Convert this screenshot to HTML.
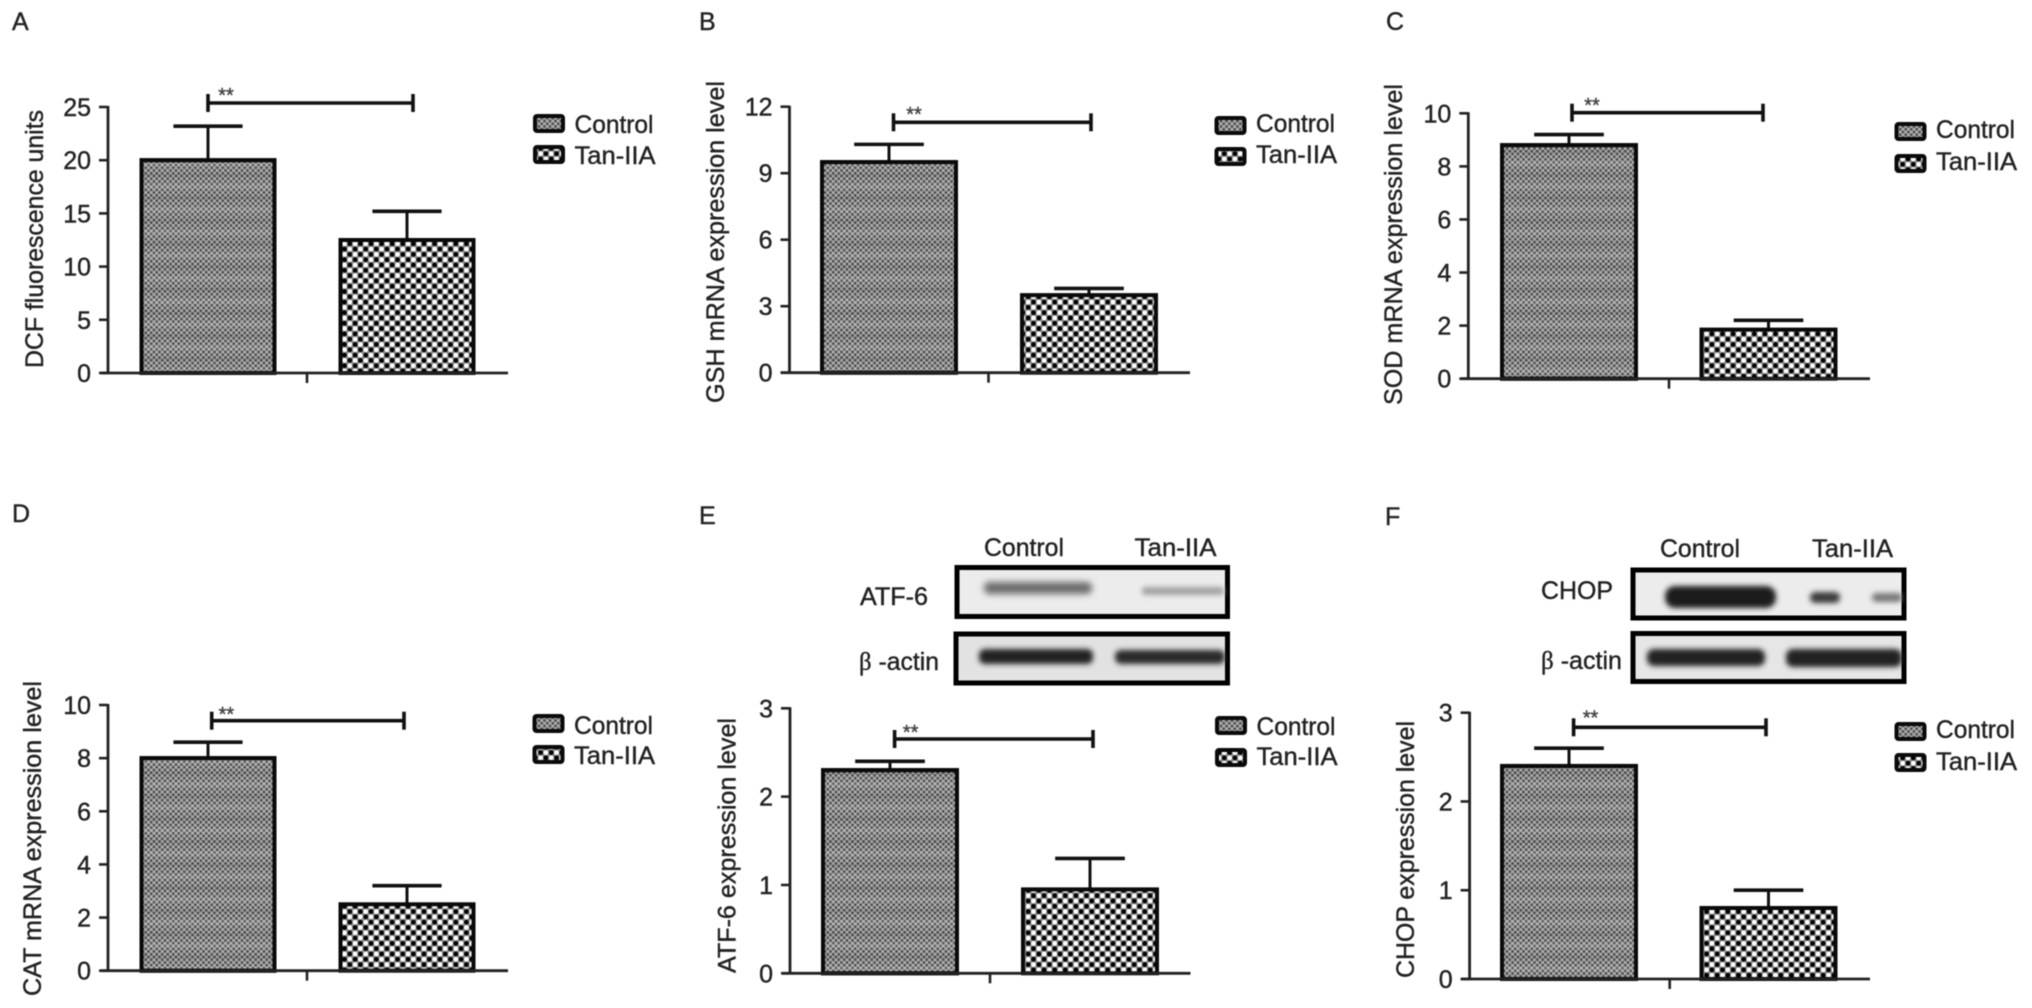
<!DOCTYPE html>
<html lang="en">
<head>
<meta charset="utf-8">
<title>Tan-IIA expression panels</title>
<style>
html,body{margin:0;padding:0;background:#fff;}
body{width:2032px;height:1008px;overflow:hidden;}
svg{display:block;filter:blur(0.55px);}
text{font-family:"Liberation Sans",sans-serif;fill:#222;stroke:#222;stroke-width:0.4px;}
</style>
</head>
<body>
<svg id="figure" xmlns="http://www.w3.org/2000/svg" width="2032" height="1008" viewBox="0 0 2032 1008">
<defs>
<pattern id="control-fill" patternUnits="userSpaceOnUse" width="5.5" height="5.5">
<rect width="5.5" height="5.5" fill="#b2b2b2"/>
<circle cx="0" cy="0" r="1.45" fill="#505050"/><circle cx="5.5" cy="0" r="1.45" fill="#505050"/>
<circle cx="0" cy="5.5" r="1.45" fill="#505050"/><circle cx="5.5" cy="5.5" r="1.45" fill="#505050"/>
<circle cx="2.75" cy="2.75" r="1.45" fill="#505050"/>
</pattern>
<pattern id="band-fill" patternUnits="userSpaceOnUse" width="8" height="23">
<rect y="0" width="8" height="5" fill="#fff" opacity="0.1"/>
<rect y="12" width="8" height="4" fill="#000" opacity="0.08"/>
</pattern>
<pattern id="tan-fill" patternUnits="userSpaceOnUse" width="10.6" height="10.6">
<rect width="10.6" height="10.6" fill="#8a8a8a"/>
<circle cx="0" cy="0" r="2.4" fill="#000"/><circle cx="10.6" cy="0" r="2.4" fill="#000"/>
<circle cx="0" cy="10.6" r="2.4" fill="#000"/><circle cx="10.6" cy="10.6" r="2.4" fill="#000"/>
<circle cx="5.3" cy="5.3" r="2.4" fill="#000"/>
<circle cx="5.3" cy="0" r="2.4" fill="#fff"/><circle cx="5.3" cy="10.6" r="2.4" fill="#fff"/>
<circle cx="0" cy="5.3" r="2.4" fill="#fff"/><circle cx="10.6" cy="5.3" r="2.4" fill="#fff"/>
</pattern>
<filter id="soft3" x="-20%" y="-150%" width="140%" height="400%"><feGaussianBlur stdDeviation="3.4"/></filter>
<filter id="soft2" x="-20%" y="-100%" width="140%" height="300%"><feGaussianBlur stdDeviation="2.6"/></filter>
</defs>
<rect width="2032" height="1008" fill="#fff"/>

<g>
<text x="984" y="556" font-size="25" textLength="80" lengthAdjust="spacingAndGlyphs">Control</text>
<text x="1134.5" y="556" font-size="25" textLength="82" lengthAdjust="spacingAndGlyphs">Tan-IIA</text>
<text x="860" y="605" font-size="25" textLength="68" lengthAdjust="spacingAndGlyphs">ATF-6</text>
<text x="859" y="670" font-size="25" textLength="80" lengthAdjust="spacingAndGlyphs"><tspan font-family="Liberation Serif">β</tspan> -actin</text>
<rect x="957" y="567.5" width="270.5" height="49" fill="#ececec" stroke="#000" stroke-width="5"/>
<rect x="984" y="582" width="108" height="12" rx="5" fill="#6a6a6a" filter="url(#soft3)"/>
<rect x="1142" y="587" width="82" height="8" rx="3" fill="#a0a0a0" filter="url(#soft2)"/>
<rect x="956" y="634" width="271.5" height="49" fill="#e2e2e2" stroke="#000" stroke-width="5"/>
<rect x="979" y="649" width="114" height="15" rx="6" fill="#222" filter="url(#soft2)"/>
<rect x="1115" y="650" width="110" height="14" rx="6" fill="#2a2a2a" filter="url(#soft2)"/>
</g>

<g>
<text x="1660" y="557" font-size="25" textLength="80" lengthAdjust="spacingAndGlyphs">Control</text>
<text x="1812" y="557" font-size="25" textLength="81" lengthAdjust="spacingAndGlyphs">Tan-IIA</text>
<text x="1541" y="599" font-size="25" textLength="72" lengthAdjust="spacingAndGlyphs">CHOP</text>
<text x="1541" y="669" font-size="25" textLength="81" lengthAdjust="spacingAndGlyphs"><tspan font-family="Liberation Serif">β</tspan> -actin</text>
<rect x="1633" y="570" width="271" height="48" fill="#ececec" stroke="#000" stroke-width="5"/>
<rect x="1665" y="586" width="111" height="22" rx="10" fill="#1c1c1c" filter="url(#soft2)"/>
<rect x="1810" y="592" width="30" height="11" rx="5" fill="#3a3a3a" filter="url(#soft2)"/>
<rect x="1872" y="593" width="30" height="9" rx="4" fill="#777" filter="url(#soft2)"/>
<rect x="1633" y="633.5" width="271" height="48" fill="#e6e6e6" stroke="#000" stroke-width="5"/>
<rect x="1647" y="649" width="118" height="17" rx="7" fill="#222" filter="url(#soft2)"/>
<rect x="1786" y="649" width="116" height="18" rx="7" fill="#222" filter="url(#soft2)"/>
</g>
</svg>
<script>
const panelLetters = ['A', 'B', 'C', 'D', 'E', 'F'];
const seriesNames = ['Control', 'Tan-IIA'];
const axisTitles = ['DCF fluorescence units', 'GSH mRNA expression level', 'SOD mRNA expression level', 'CAT mRNA expression level', 'ATF-6 expression level', 'CHOP expression level'];
const yTickLabels = [[0, 5, 10, 15, 20, 25], [0, 3, 6, 9, 12], [0, 2, 4, 6, 8, 10], [0, 2, 4, 6, 8, 10], [0, 1, 2, 3], [0, 1, 2, 3]];
const controlValues = [20, 9.5, 8.8, 8, 2.3, 2.4];
const tanValues = [12.5, 3.5, 1.85, 2.5, 0.95, 0.8];
const controlErrorTops = [23.2, 10.3, 9.2, 8.6, 2.4, 2.6];
const tanErrorTops = [15.2, 3.8, 2.2, 3.2, 1.3, 1.0];

// Panel geometry, kept apart from the data arrays above.
const layouts = [
  {axisX:108, top:107, bottom:373, x0:141.5, barW:133, x1:340.5, end:508, start:101, tickX:307, sig:[208,413,103], star:[226,96], legX:533, legY:[114,145], legText:[133,164], title:[43,368,258], letter:[12,30]},
  {axisX:789.5, top:106.7, bottom:372.7, x0:822, barW:134, x1:1022, end:1190, start:781, tickX:988.5, sig:[893.5,1091,122.3], star:[914,115], legX:1214.5, legY:[116,147], legText:[132,163], title:[724,403,322], letter:[699,30]},
  {axisX:1468.3, top:113.3, bottom:378.7, x0:1502, barW:134, x1:1701.5, end:1870, start:1461, tickX:1669, sig:[1572,1763,112.7], star:[1592,106], legX:1894.5, legY:[122,154], legText:[138,170], title:[1402,405,321], letter:[1386,30]},
  {axisX:108, top:705, bottom:970.7, x0:141.5, barW:133, x1:340.5, end:508, start:101, tickX:307, sig:[211.7,404,720.7], star:[226.4,715], legX:532.5, legY:[714,745], legText:[734,764], title:[41,996,315], letter:[12,522]},
  {axisX:790, top:708.3, bottom:973.3, x0:823, barW:134, x1:1023, end:1190.5, start:782, tickX:990, sig:[894.6,1093,739], star:[910.6,733], legX:1215, legY:[716,748], legText:[735,765], title:[735.6,973,255], letter:[699,524]},
  {axisX:1469.6, top:712.7, bottom:979, x0:1502, barW:134, x1:1701.5, end:1870, start:1461, tickX:1669.7, sig:[1573.6,1766,727.3], star:[1590.5,718.5], legX:1894.5, legY:[722,753], legText:[738,770], title:[1414,978,257], letter:[1385,525]}
];

const SVG_NS = 'http://www.w3.org/2000/svg';
const figure = document.getElementById('figure');

function mk(parent, tag, attrs, content) {
  const node = document.createElementNS(SVG_NS, tag);
  for (const key in attrs) node.setAttribute(key, attrs[key]);
  if (content !== undefined) node.textContent = content;
  parent.appendChild(node);
  return node;
}

function yScale(i, value) {
  const ticks = yTickLabels[i];
  const maxValue = ticks[ticks.length - 1];
  const box = layouts[i];
  return box.bottom - (value / maxValue) * (box.bottom - box.top);
}

function drawErrorBar(group, i, x, base, top, halfCap) {
  const stem = mk(group, 'line', {x1:x, x2:x, y1:yScale(i, base), y2:yScale(i, top), stroke:'#111', 'stroke-width':3});
  
  
  const cap = mk(group, 'line', {x1:x - halfCap, x2:x + halfCap, y1:yScale(i, top), y2:yScale(i, top), stroke:'#111', 'stroke-width':3.6});
  
  
}

function drawBar(group, i, x, value, w, fill, label) {
  const y = yScale(i, value);
  const h = layouts[i].bottom - y;
  const bar = mk(group, 'rect', {x:x, y:y, width:w, height:h, fill:fill, stroke:'#0a0a0a', 'stroke-width':4});
  
  
}

panelLetters.forEach(function (letter, i) {
  const box = layouts[i];
  const panel = mk(figure, 'g', {});
  
  

  const letterText = mk(panel, 'text', {x:box.letter[0], y:box.letter[1], 'font-size':25}, letter);
  
  

  const title = mk(panel, 'text', {x:box.title[0], y:box.title[1], 'font-size':25, textLength:box.title[2], lengthAdjust:'spacingAndGlyphs', transform:'rotate(-90 ' + box.title[0] + ' ' + box.title[1] + ')'}, axisTitles[i]);
  
  

  // error bars sit behind bars
  const half = box.barW * 0.26;
  drawErrorBar(panel, i, box.x0 + box.barW / 2, controlValues[i], controlErrorTops[i], half);
  drawErrorBar(panel, i, box.x1 + box.barW / 2, tanValues[i], tanErrorTops[i], half);

  drawBar(panel, i, box.x0, controlValues[i], box.barW, 'url(#control-fill)', 'bar-control');
  drawBar(panel, i, box.x0, controlValues[i], box.barW, 'url(#band-fill)', 'bar-control-banding');
  drawBar(panel, i, box.x1, tanValues[i], box.barW, 'url(#tan-fill)', 'bar-tan-iia');

  const yAxis = mk(panel, 'line', {x1:box.axisX, x2:box.axisX, y1:yScale(i, yTickLabels[i][yTickLabels[i].length - 1]) - 1, y2:box.bottom, stroke:'#222', 'stroke-width':2.8});
  
  

  const xAxis = mk(panel, 'line', {x1:box.start, x2:box.end, y1:box.bottom, y2:box.bottom, stroke:'#222', 'stroke-width':2.8});
  
  

  const xTick = mk(panel, 'line', {x1:box.tickX, x2:box.tickX, y1:box.bottom, y2:box.bottom + 10, stroke:'#222', 'stroke-width':2.6});
  
  

  yTickLabels[i].forEach(function (tickValue) {
    const y = yScale(i, tickValue);
    const tick = mk(panel, 'line', {x1:box.axisX - 9, x2:box.axisX, y1:y, y2:y, stroke:'#222', 'stroke-width':2.6});
    
    
    const label = mk(panel, 'text', {x:box.axisX - 17, y:y + 9, 'font-size':25, 'text-anchor':'end'}, String(tickValue));
    
    
  });

  const sigLine = mk(panel, 'line', {x1:box.sig[0], x2:box.sig[1], y1:box.sig[2], y2:box.sig[2], stroke:'#111', 'stroke-width':3.6});
  
  
  box.sig.slice(0, 2).forEach(function (capX) {
    const sigCap = mk(panel, 'line', {x1:capX, x2:capX, y1:box.sig[2] - 9, y2:box.sig[2] + 9, stroke:'#111', 'stroke-width':3.6});
    
    
  });
  const star = mk(panel, 'text', {x:box.star[0], y:box.star[1] + 6, 'font-size':20, 'text-anchor':'middle', style:'fill:#444;stroke:#444'}, '**');
  
  

  seriesNames.forEach(function (name, s) {
    const entry = mk(panel, 'g', {});
    
    
    const swatch = mk(entry, 'rect', {x:box.legX + 2, y:box.legY[s] + 2, width:28, height:15, rx:2, fill:s === 0 ? 'url(#control-fill)' : 'url(#tan-fill)', stroke:'#0a0a0a', 'stroke-width':4});
    
    
    const text = mk(entry, 'text', {x:box.legX + 41.5, y:box.legText[s], 'font-size':25, textLength:s === 0 ? 79 : 81, lengthAdjust:'spacingAndGlyphs'}, name);
    
    
  });
});
</script>
</body>
</html>
